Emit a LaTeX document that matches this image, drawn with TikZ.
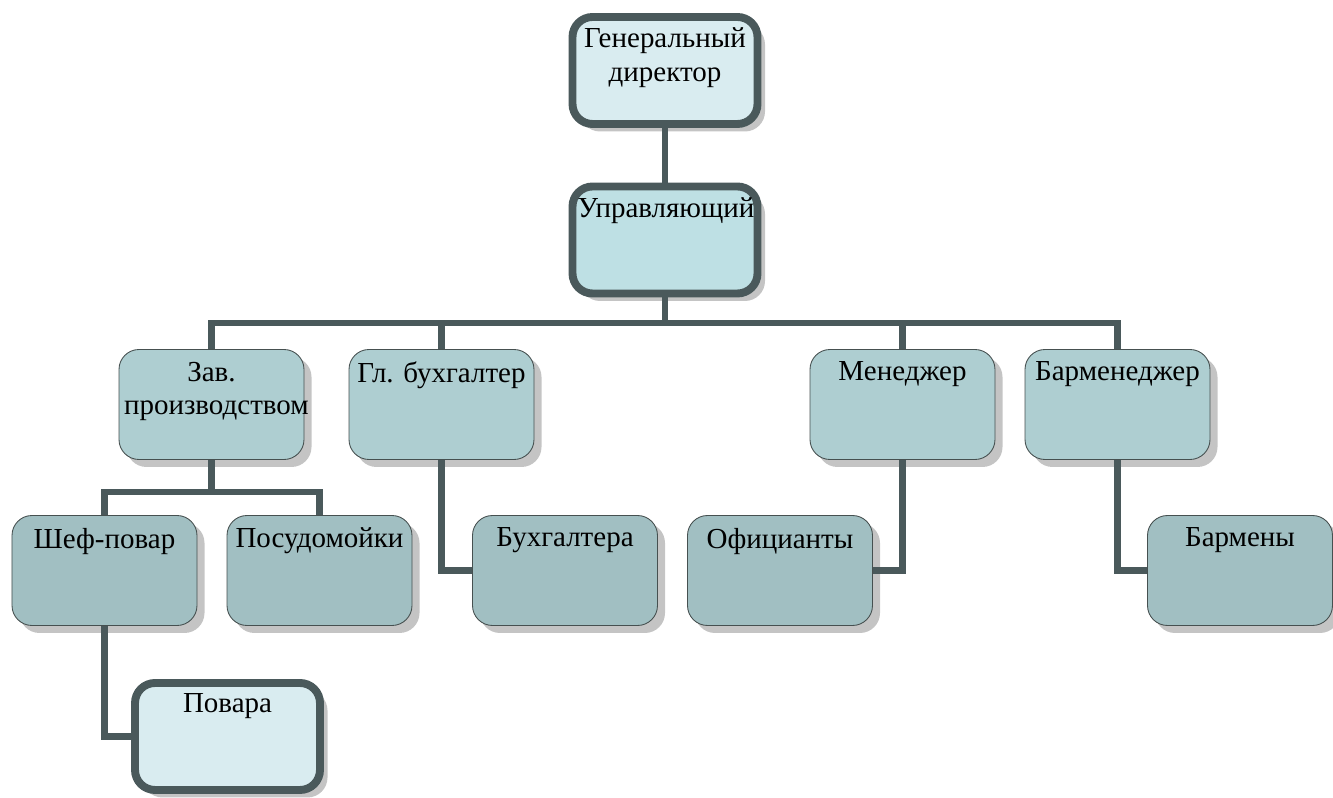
\documentclass[tikz,border=0pt]{standalone}
\usepackage{fontspec}
\setmainfont{Liberation Serif}
\usetikzlibrary{shadows}
\definecolor{lineclr}{RGB}{74,89,91}
\definecolor{borderclr}{RGB}{70,80,80}
\definecolor{shadowclr}{RGB}{196,196,196}
\definecolor{topclr}{RGB}{217,236,240}
\definecolor{mgrclr}{RGB}{190,224,228}
\definecolor{lvltwo}{RGB}{174,206,209}
\definecolor{lvlthree}{RGB}{161,191,194}
\begin{document}
\begin{tikzpicture}[
	post/.style={rounded corners=0.4cm, inner xsep=0.1cm, inner ysep=0.25cm,
		minimum width=3.7cm, font=\fontsize{16.5}{19}\selectfont,
		drop shadow={shadow xshift=0.15cm, shadow yshift=-0.15cm, fill=shadowclr, opacity=1},
		execute at begin node={\begin{minipage}[t][1.7cm][t]{3.5cm}\centering},
		execute at end node={\end{minipage}}},
	headbox/.style={post, draw=lineclr, line width=4.5pt, inner ysep=0.22cm, minimum width=3.64cm},
	unitbox/.style={post, draw=borderclr, line width=0.5pt},
	link/.style={draw=lineclr, line width=3.7pt}
]
	\useasboundingbox (0 cm, 0 cm) rectangle (26.66 cm, 15.96 cm);
	% top
	\node[headbox, fill=topclr] (gd) at (13.3 cm, 14.55 cm) {Генеральный\\директор};
	\node[headbox, fill=mgrclr] (upr) at (13.3 cm, 11.16 cm) {Управляющий};
	% departments
	\node[unitbox, fill=lvltwo] (zav) at (4.23 cm, 7.87 cm) {Зав.\\производством};
	\node[unitbox, fill=lvltwo] (glb) at (8.83 cm, 7.87 cm) {Гл. бухгалтер};
	\node[unitbox, fill=lvltwo] (men) at (18.05 cm, 7.87 cm) {Менеджер};
	\node[unitbox, fill=lvltwo] (bar) at (22.35 cm, 7.87 cm) {Барменеджер};
	% staff
	\node[unitbox, fill=lvlthree] (shef) at (2.09 cm, 4.55 cm) {Шеф-повар};
	\node[unitbox, fill=lvlthree] (posud) at (6.39 cm, 4.55 cm) {Посудомойки};
	\node[unitbox, fill=lvlthree] (buh) at (11.3 cm, 4.55 cm) {Бухгалтера};
	\node[unitbox, fill=lvlthree] (ofi) at (15.6 cm, 4.55 cm) {Официанты};
	\node[unitbox, fill=lvlthree] (barm) at (24.8 cm, 4.55 cm) {Бармены};
	\node[headbox, fill=topclr] (pov) at (4.55 cm, 1.23 cm) {Повара};
	% connectors
	\coordinate (bus1) at (0 cm, 9.5 cm);
	\coordinate (bus2) at (0 cm, 6.12 cm);
	\draw[link] (gd.south) -- (upr.north);
	\foreach \n in {zav,glb,men,bar}{
		\draw[link] (upr.south) |- (bus1 -| \n.north) -- (\n.north);
	}
	\foreach \n in {shef,posud}{
		\draw[link] (zav.south) |- (bus2 -| \n.north) -- (\n.north);
	}
	\draw[link] (glb.south) |- (buh.west);
	\draw[link] (men.south) |- (ofi.east);
	\draw[link] (bar.south) |- (barm.west);
	\draw[link] (shef.south) |- (pov.west);
\end{tikzpicture}
\end{document}
